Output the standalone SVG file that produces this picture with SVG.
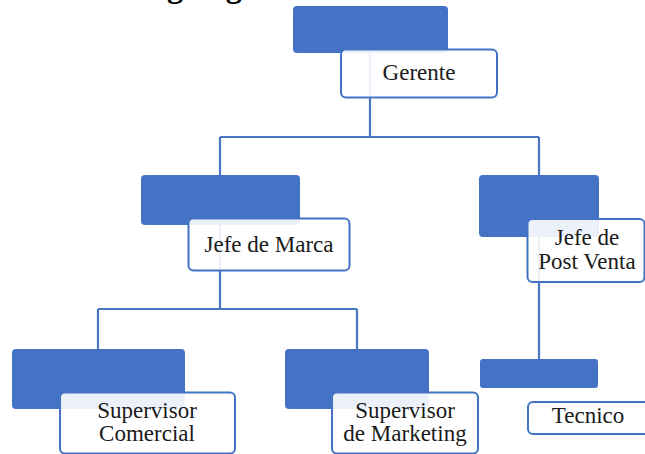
<svg xmlns="http://www.w3.org/2000/svg" width="645" height="454" viewBox="0 0 645 454">
<style>
.blue{fill:#4472C4;}
.box{fill:#ffffff;fill-opacity:0.9;stroke:#4472C4;stroke-width:2;}
.lbl{font-family:"Liberation Serif","Times New Roman",serif;font-size:23px;fill:#1a1a1a;text-anchor:middle;}
.conn{fill:none;stroke:#4A76C5;stroke-width:2.2;}
.title{font-family:"Liberation Serif","Times New Roman",serif;font-size:32px;font-weight:bold;fill:#000;}
</style>
<rect width="645" height="454" fill="#ffffff"/>
<text class="title" x="128" y="-3.5">Organigrama</text>
<g id="connectors">
<path class="conn" d="M370,50 V137 M220,137 H539 M220,137 V176 M539,137 V176"/>
<path class="conn" d="M220,220 V309 M98,309 H357 M98,309 V350 M357,309 V350"/>
<path class="conn" d="M539,230 V360"/>
</g>
<g id="gerente">
<rect class="blue" x="293" y="6" width="155" height="47" rx="4"/>
<rect class="box" x="341" y="49.5" width="156" height="48" rx="5"/>
<text class="lbl" x="419" y="80">Gerente</text>
</g>
<g id="jefe-marca">
<rect class="blue" x="141" y="175" width="159" height="50" rx="4"/>
<rect class="box" x="188.5" y="218.5" width="161" height="52" rx="5"/>
<text class="lbl" x="269" y="252">Jefe de Marca</text>
</g>
<g id="jefe-post-venta">
<rect class="blue" x="479" y="175" width="120" height="62" rx="4"/>
<rect class="box" x="527.5" y="219" width="117" height="63" rx="5"/>
<text class="lbl" x="587" y="245">Jefe de</text>
<text class="lbl" x="587" y="269">Post Venta</text>
</g>
<g id="supervisor-comercial">
<rect class="blue" x="12" y="349" width="173" height="60" rx="4"/>
<rect class="box" x="60" y="392.5" width="175" height="61" rx="5"/>
<text class="lbl" x="147" y="418">Supervisor</text>
<text class="lbl" x="147" y="441">Comercial</text>
</g>
<g id="supervisor-marketing">
<rect class="blue" x="285" y="349" width="144" height="60" rx="4"/>
<rect class="box" x="332" y="392.5" width="146" height="61" rx="5"/>
<text class="lbl" x="405" y="418">Supervisor</text>
<text class="lbl" x="405" y="441">de Marketing</text>
</g>
<g id="tecnico">
<rect class="blue" x="480" y="359" width="118" height="29" rx="3"/>
<rect class="box" x="528" y="402" width="125" height="32" rx="5"/>
<text class="lbl" x="588" y="423">Tecnico</text>
</g>
</svg>
